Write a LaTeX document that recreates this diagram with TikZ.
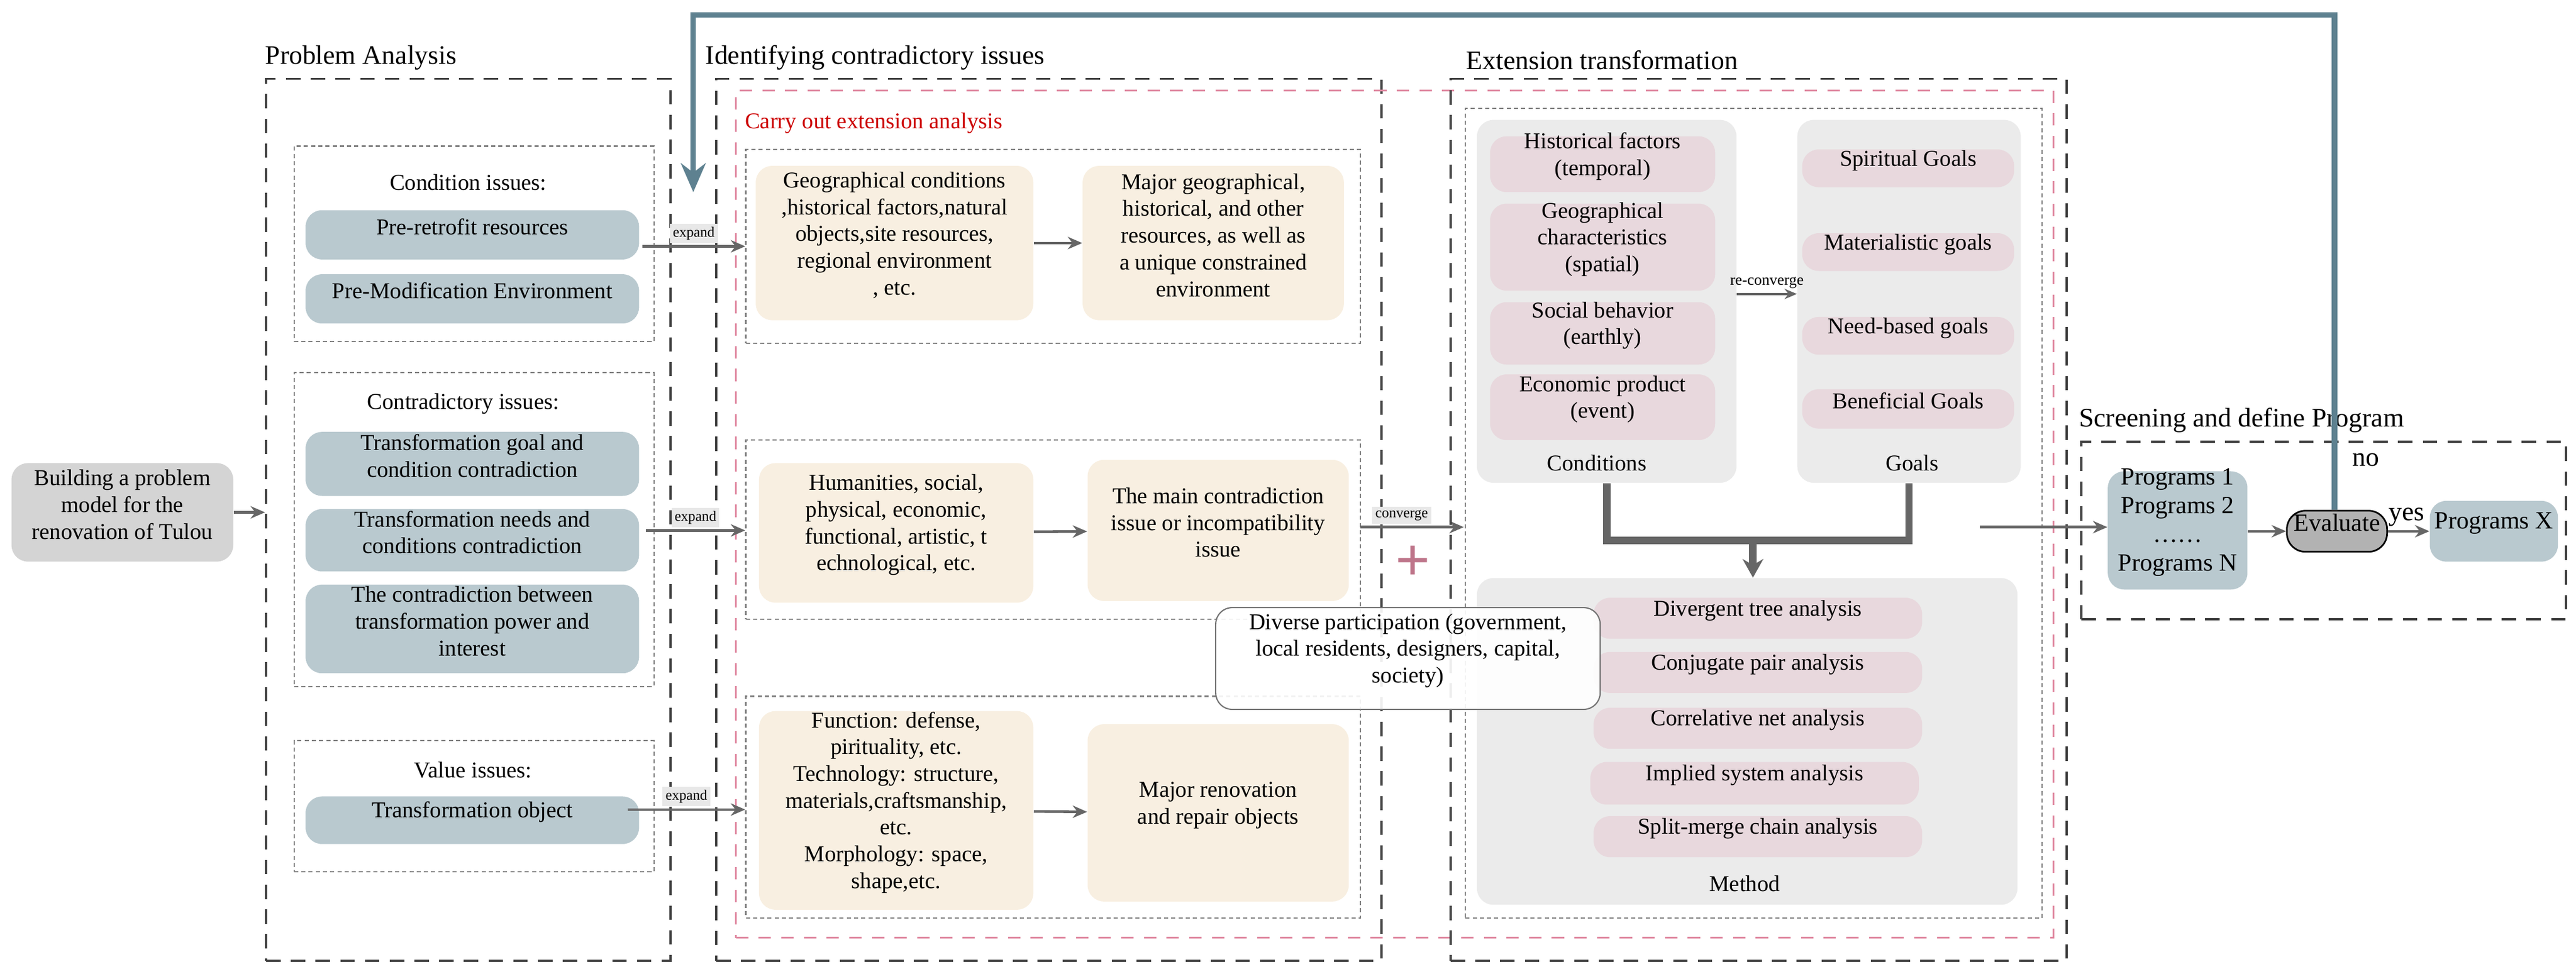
\documentclass[tikz,border=0pt]{standalone}
\usepackage{fontspec}
\setmainfont{Liberation Serif}
\usetikzlibrary{fit,arrows.meta}
\definecolor{bluegray}{HTML}{B9C9CF}
\definecolor{beige}{HTML}{F8EFE1}
\definecolor{pinkn}{HTML}{E8D8DD}
\definecolor{panel}{HTML}{EBEBEB}
\definecolor{fb}{HTML}{5E8190}
\definecolor{pinkd}{HTML}{E08AA2}
\definecolor{arr}{HTML}{666666}
\newcommand\bx[7]{\node[#2,fit={(#3,#4)(#5,#6)},inner sep=0pt] (#1) {#7};}
\begin{document}
\begin{tikzpicture}[x=0.02803cm,y=-0.02803cm,
 every node/.style={font=\fontsize{11}{13}\selectfont},
 bg/.style={draw=none,fill=#1,rounded corners=8pt,align=center},
 bigdash/.style={draw=black!75,line width=1.1pt,dash pattern=on 7pt off 5pt},
 smalldash/.style={draw=black!50,line width=0.6pt,dash pattern=on 2pt off 1.5pt},
 pinkdash/.style={draw=pinkd,line width=0.9pt,dash pattern=on 6pt off 5pt},
 title/.style={anchor=south west,inner sep=1pt,font=\fontsize{13}{15}\selectfont},
 sub/.style={inner sep=1pt},
 lab/.style={fill=black!9,inner sep=1.5pt,font=\fontsize{7}{8}\selectfont},
 ar/.style={draw=arr,line width=1.3pt,-{Stealth[length=7pt,width=6pt]}},
 thick bar/.style={draw=arr,line width=3.6pt}
]
\useasboundingbox (0,0) rectangle (1568,590);
% left start node
\bx{start}{bg=black!17,align=left}{7}{282}{142}{342}{Building a problem\\model for the\\renovation of Tulou}
% Problem Analysis
\node[bigdash,fit={(162,48)(408,585)},inner sep=0pt] (pa) {};
\node[title] (pat) at (160,44) {Problem Analysis};
\node[smalldash,fit={(179,89)(398,208)},inner sep=0pt] (ci) {};
\node[sub] (cit) at (285,111) {Condition issues:};
\bx{pre}{bg=bluegray}{186}{128}{389}{158}{Pre-retrofit resources}
\bx{prem}{bg=bluegray}{186}{167}{389}{197}{Pre-Modification Environment}
\node[smalldash,fit={(179,227)(398,418)},inner sep=0pt] (cti) {};
\node[sub] (ctit) at (282,246) {Contradictory issues:};
\bx{c1}{bg=bluegray}{186}{263}{389}{302}{Transformation goal and\\condition contradiction}
\bx{c2}{bg=bluegray}{186}{310}{389}{348}{Transformation needs and\\conditions contradiction}
\bx{c3}{bg=bluegray,align=left}{186}{356}{389}{410}{The contradiction between\\transformation power and\\interest}
\node[smalldash,fit={(179,451)(398,531)},inner sep=0pt] (vi) {};
\node[sub] (vit) at (288,469) {Value issues:};
\bx{to}{bg=bluegray}{186}{485}{389}{514}{Transformation object}
% Identifying
\node[bigdash,fit={(436,48)(841,585)},inner sep=0pt] (id) {};
\node[title] (idt) at (428,44) {Identifying contradictory issues};
\node[pinkdash,fit={(448,55)(1250,571)},inner sep=0pt] (pk) {};
\node[anchor=west,text=red!80!black,sub] (pkt) at (452,75) {Carry out extension analysis};
\node[smalldash,fit={(454,91)(828,209)},inner sep=0pt] (r1) {};
\node[smalldash,fit={(454,268)(828,377)},inner sep=0pt] (r2) {};
\node[smalldash,fit={(454,424)(828,559)},inner sep=0pt] (r3) {};
\bx{a1}{bg=beige,align=left}{460}{101}{629}{195}{Geographical conditions\\,historical factors,natural\\objects,site resources,\\regional environment\\, etc.}
\bx{b1}{bg=beige,align=left}{659}{101}{818}{195}{Major geographical,\\historical, and other\\resources, as well as\\a unique constrained\\environment}
\bx{a2}{bg=beige,align=left}{462}{282}{629}{367}{Humanities, social,\\physical, economic,\\functional, artistic, t\\echnological, etc.}
\bx{b2}{bg=beige,align=left}{662}{280}{821}{366}{The main contradiction\\issue or incompatibility\\issue}
\bx{a3}{bg=beige,align=left}{462}{433}{629}{554}{Function: defense,\\pirituality, etc.\\Technology: structure,\\materials,craftsmanship,\\ etc.\\Morphology: space,\\shape,etc.}
\bx{b3}{bg=beige}{662}{441}{821}{549}{Major renovation\\and repair objects}
\draw[ar] (a1) -- (b1);
\draw[ar] (a2) -- (b2);
\draw[ar] (a3) -- (b3);
\coordinate (e1) at (391,150); \coordinate (e2) at (393,323); \coordinate (e3) at (382,493);
\draw[ar] (e1) -- (r1.west |- e1) node[lab,pos=0.5,above=1pt] {expand};
\draw[ar] (e2) -- (r2.west |- e2) node[lab,pos=0.5,above=1pt] {expand};
\draw[ar] (e3) -- (r3.west |- e3) node[lab,pos=0.5,above=1pt] {expand};
\draw[ar] (start) -- (pa.west |- start);
% converge
\coordinate (cv) at (828,321);
\draw[ar] (cv) -- (891,321) node[lab,pos=0.4,above=1pt] {converge};
\node[text=pinkd!85!black,font=\fontsize{30}{30}\selectfont\bfseries,inner sep=0pt] (plus) at (860,343) {+};
% Extension transformation
\node[bigdash,fit={(883,48)(1258,585)},inner sep=0pt] (et) {};
\node[title] (ett) at (891,44) {Extension transformation};
\node[smalldash,fit={(892,66)(1243,559)},inner sep=0pt] (eti) {};
\bx{cond}{bg=panel}{899}{73}{1057}{294}{}
\node[sub] (condt) at (972,282) {Conditions};
\bx{h1}{bg=pinkn,align=left}{907}{83}{1044}{117}{Historical factors\\(temporal)}
\bx{h2}{bg=pinkn,align=left}{907}{124}{1044}{177}{Geographical\\characteristics\\(spatial)}
\bx{h3}{bg=pinkn,align=left}{907}{184}{1044}{222}{Social behavior\\(earthly)}
\bx{h4}{bg=pinkn,align=left}{907}{228}{1044}{268}{Economic product\\ (event)}
\bx{goals}{bg=panel}{1094}{73}{1230}{294}{}
\node[sub] (goalst) at (1164,282) {Goals};
\bx{g1}{bg=pinkn}{1097}{91}{1226}{114}{Spiritual Goals}
\bx{g2}{bg=pinkn}{1097}{142}{1226}{165}{Materialistic goals}
\bx{g3}{bg=pinkn}{1097}{193}{1226}{216}{Need-based goals}
\bx{g4}{bg=pinkn}{1097}{237}{1226}{261}{Beneficial Goals}
\draw[draw=arr,line width=1.2pt,-{Stealth[length=6pt,width=5pt]}] (cond.east |- 0,179) -- (goals.west |- 0,179) node[pos=0.5,above=1pt,inner sep=1pt,font=\fontsize{7.5}{8}\selectfont] {re-converge};
\bx{method}{bg=panel}{899}{352}{1228}{551}{}
\node[sub] (methodt) at (1062,538) {Method};
\bx{m1}{bg=pinkn}{970}{364}{1170}{389}{Divergent tree analysis}
\bx{m2}{bg=pinkn}{970}{397}{1170}{422}{Conjugate pair analysis}
\bx{m3}{bg=pinkn}{970}{431}{1170}{456}{Correlative net analysis}
\bx{m4}{bg=pinkn}{968}{464}{1168}{490}{Implied system analysis}
\bx{m5}{bg=pinkn}{970}{497}{1170}{522}{Split-merge chain  analysis}
\coordinate (brj) at (1067,329);
\draw[thick bar] (cond.south) -- (cond.south |- brj) -| (goals.south);
\draw[draw=arr,line width=3.6pt,-{Stealth[length=9pt,width=10pt]}] (brj) -- (method.north -| brj);
% diverse participation
\bx{dp}{draw=black!55,fill=white,fill opacity=0.9,text opacity=1,rounded corners=8pt,align=left,line width=0.6pt}{740}{370}{974}{432}{Diverse participation (government,\\local residents, designers, capital,\\society)}
% Screening
\node[bigdash,fit={(1267,269)(1562,377)},inner sep=0pt] (sc) {};
\node[title] (sct) at (1264,265) {Screening and define Program};
\bx{prog}{bg=bluegray,align=left,font=\fontsize{12}{14}\selectfont}{1283}{287}{1368}{359}{Programs 1\\Programs 2\\……\\Programs N}
\bx{eval}{draw=black,fill=black!30,rounded corners=9pt,line width=0.8pt,font=\fontsize{12}{14}\selectfont}{1392}{311}{1453}{336}{Evaluate}
\bx{px}{bg=bluegray,font=\fontsize{12}{14}\selectfont}{1479}{305}{1557}{342}{Programs X}
\coordinate (ps) at (1205,321);
\draw[ar] (ps) -- (prog.west |- ps);
\draw[ar,line width=1pt] (prog.east |- eval) -- (eval);
\draw[ar,line width=1pt] (eval) -- (px) node[pos=0.45,above=2pt,inner sep=0pt,font=\fontsize{13}{14}\selectfont] {yes};
\node[font=\fontsize{13}{14}\selectfont,inner sep=0pt] (no) at (1440,280) {no};
\coordinate (fbt) at (422,9);
\coordinate (fbe) at (422,117);
\draw[draw=fb,line width=2.6pt,-{Stealth[length=14pt,width=12pt]}] (eval.north -| 1421,0) |- (fbt) -- (fbe);
\end{tikzpicture}
\end{document}
